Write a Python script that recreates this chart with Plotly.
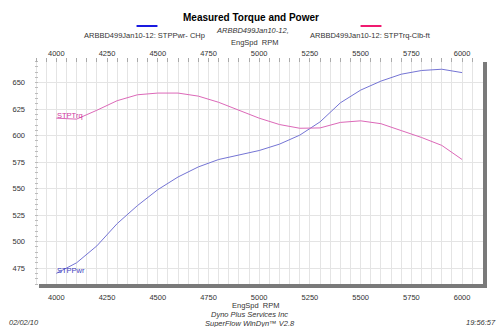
import plotly.graph_objects as go

rpm = [4000, 4100, 4200, 4300, 4400, 4500, 4600, 4700, 4800, 4900, 5000,
       5100, 5200, 5300, 5400, 5500, 5600, 5700, 5800, 5900, 6000]
power_hp = [470, 480, 496, 517, 534, 549, 561, 570.5, 577.5, 582, 586,
            592, 600.5, 613, 631, 643, 651.5, 658, 661.5, 662.7, 659.5]
torque_lbft = [616.5, 615.6, 624, 633, 638.6, 640.2, 640.2, 637.3, 631.5, 624.3, 616.5,
               610.5, 607, 607.3, 612.5, 614, 611.3, 604.8, 598.3, 590.8, 577.5]
x_ticks = [4000, 4250, 4500, 4750, 5000, 5250, 5500, 5750, 6000]
y_ticks = [475, 500, 525, 550, 575, 600, 625, 650]

FONT = "Liberation Sans, Arial, sans-serif"
PWR_C = "#7474d4"
TRQ_C = "#dc68b8"
GRID = "#e4e4e4"

fig = go.Figure()
fig.add_trace(go.Scatter(x=rpm, y=power_hp, mode="lines",
                         line=dict(color=PWR_C, width=1), showlegend=False))
fig.add_trace(go.Scatter(x=rpm, y=torque_lbft, mode="lines",
                         line=dict(color=TRQ_C, width=1), showlegend=False))
# invisible trace to activate top axis
fig.add_trace(go.Scatter(x=rpm, y=torque_lbft, mode="lines", xaxis="x2",
                         line=dict(color="rgba(0,0,0,0)", width=0),
                         showlegend=False, hoverinfo="skip"))

W, H = 500, 327
L, R, T, B = 33, 17, 58, 43
pw, ph = W - L - R, H - T - B


def px(x):
    return (x - L) / pw


def py(y):
    return (H - B - y) / ph


xr = [3895, 6103]
yr = [460, 673.3]

fig.update_layout(
    width=W, height=H,
    margin=dict(l=L, r=R, t=T, b=B),
    paper_bgcolor="white", plot_bgcolor="white",
    font=dict(family=FONT, size=7.5, color="#333"),
    xaxis=dict(range=xr, tickvals=x_ticks, ticktext=[str(v) for v in x_ticks],
               showgrid=True, gridcolor=GRID, gridwidth=1, zeroline=False,
               showline=False, ticks="", ticklabelstandoff=7,
               tickfont=dict(size=7.5, color="#333"),
               minor=dict(tick0=4000, dtick=50, showgrid=True, gridcolor=GRID, gridwidth=1)),
    xaxis2=dict(range=xr, overlaying="x", side="top", tickvals=x_ticks,
                ticktext=[str(v) for v in x_ticks], showgrid=False, zeroline=False,
                showline=False, ticks="inside", ticklen=4, tickcolor="#aaa",
                tickfont=dict(size=7.5, color="#333"),
                minor=dict(tick0=4000, dtick=50, ticks="inside", ticklen=4, tickcolor="#aaa")),
    yaxis=dict(range=yr, tickvals=y_ticks, ticktext=[str(v) for v in y_ticks],
               showgrid=True, gridcolor=GRID, gridwidth=1, zeroline=False,
               showline=False, ticks="", ticklabelstandoff=9,
               tickfont=dict(size=7.5, color="#333"),
               minor=dict(dtick=5, tick0=475, ticks="inside", ticklen=3, tickcolor="#bbb")),
)

shapes = [
    # drop-shadow frame (bottom and right)
    dict(type="rect", xref="paper", yref="paper", x0=px(37), x1=px(487), y0=py(288), y1=py(284),
         fillcolor="#7a7a7a", line=dict(width=0)),
    dict(type="rect", xref="paper", yref="paper", x0=px(483), x1=px(487), y0=py(288), y1=py(62),
         fillcolor="#7a7a7a", line=dict(width=0)),
    # legend swatches
    dict(type="line", xref="paper", yref="paper", x0=px(135), x1=px(156), y0=py(26), y1=py(26),
         line=dict(color="#1a1ae0", width=2)),
    dict(type="line", xref="paper", yref="paper", x0=px(360), x1=px(381), y0=py(26), y1=py(26),
         line=dict(color="#f01a70", width=2)),
]
fig.update_layout(shapes=shapes)

ann = []


def A(text, x, y, size=7.5, xanchor="center", color="#333", **kw):
    ann.append(dict(text=text, x=px(x), y=py(y), xref="paper", yref="paper",
                    xanchor=xanchor, yanchor="middle", showarrow=False,
                    font=dict(family=FONT, size=size, color=color), **kw))


A("<b>Measured Torque and Power</b>", 250, 17, size=10, color="#000")
A("<i>ARBBD499Jan10-12,</i>", 251, 31, size=7.5)
A("ARBBD499Jan10-12: STPPwr- CHp", 143, 35.7)
A("ARBBD499Jan10-12: STPTrq-Clb-ft", 370, 35.7)
A("EngSpd  RPM", 254, 42.7)
A("EngSpd  RPM", 255, 305)
A("<i>Dyno Plus Services Inc</i>", 248, 314.7)
A("<i>SuperFlow WinDyn™ V2.8</i>", 249, 323)
A("<i>02/02/10</i>", 5, 322, xanchor="left")
A("<i>19:56:57</i>", 498, 322, xanchor="right")

ann.append(dict(text="STPTrq", x=rpm[0], y=619.5, xref="x", yref="y", xanchor="left",
                yanchor="middle", showarrow=False, xshift=-1,
                font=dict(family=FONT, size=7.5, color="#d0389e")))
ann.append(dict(text="STPPwr", x=rpm[0], y=473.1, xref="x", yref="y", xanchor="left",
                yanchor="middle", showarrow=False, xshift=-1,
                font=dict(family=FONT, size=7.5, color="#4040c0")))
fig.update_layout(annotations=ann)

fig.write_html("out.html")
